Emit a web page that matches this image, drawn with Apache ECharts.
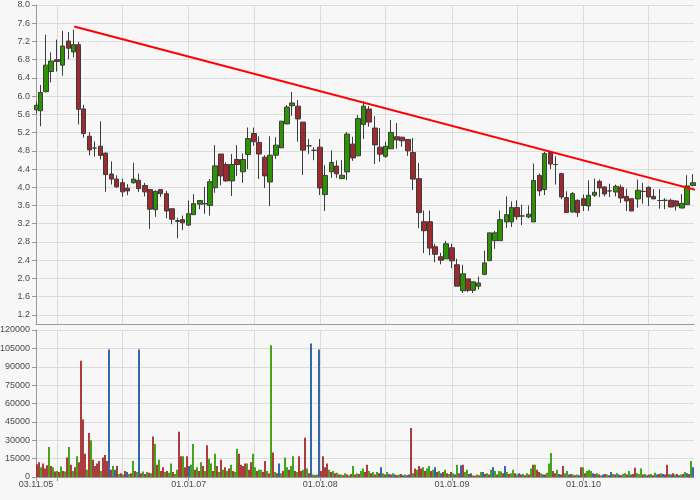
<!DOCTYPE html>
<html><head><meta charset="utf-8">
<script src="https://cdn.jsdelivr.net/npm/echarts@6/dist/echarts.min.js"></script>
<style>html,body{margin:0;padding:0;background:#f7f7f7}#c{width:700px;height:500px}</style>
</head><body><div id="c"></div>
<script>
// candle dates (semi-monthly)
const dates = ['2005-11-05','2005-11-15','2005-12-01','2005-12-15',
'2006-01-01','2006-01-15','2006-02-01','2006-02-15','2006-03-01','2006-03-15','2006-04-01','2006-04-15','2006-05-01','2006-05-15','2006-06-01','2006-06-15',
'2006-07-01','2006-07-15','2006-08-01','2006-08-15','2006-09-01','2006-09-15','2006-10-01','2006-10-15','2006-11-01','2006-11-15','2006-12-01','2006-12-15',
'2007-01-01','2007-01-15','2007-02-01','2007-02-15','2007-03-01','2007-03-15','2007-04-01','2007-04-15','2007-05-01','2007-05-15','2007-06-01','2007-06-15',
'2007-07-01','2007-07-15','2007-08-01','2007-08-15','2007-09-01','2007-09-15','2007-10-01','2007-10-15','2007-11-01','2007-11-15','2007-12-01','2007-12-15',
'2008-01-01','2008-01-15','2008-02-01','2008-02-15','2008-03-01','2008-03-15','2008-04-01','2008-04-15','2008-05-01','2008-05-15','2008-06-01','2008-06-15',
'2008-07-01','2008-07-15','2008-08-01','2008-08-15','2008-09-01','2008-09-15','2008-10-01','2008-10-15','2008-11-01','2008-11-15','2008-12-01','2008-12-15',
'2009-01-01','2009-01-15','2009-02-01','2009-02-15','2009-03-01','2009-03-15','2009-04-01','2009-04-15','2009-05-01','2009-05-15','2009-06-01','2009-06-15',
'2009-07-01','2009-07-15','2009-08-01','2009-08-15','2009-09-01','2009-09-15','2009-10-01','2009-10-15','2009-11-01','2009-11-15','2009-12-01','2009-12-15',
'2010-01-01','2010-01-15','2010-02-01','2010-02-15','2010-03-01','2010-03-15','2010-04-01','2010-04-15','2010-05-01','2010-05-15','2010-06-01','2010-06-15',
'2010-07-01','2010-07-15','2010-08-01','2010-08-15','2010-09-01','2010-09-15','2010-10-01','2010-10-15','2010-11-01'];
const opens = [5.70,5.68,6.10,6.54,6.80,6.68,7.21,6.97,7.13,5.72,5.12,4.86,4.90,4.75,4.29,4.18,4.10,3.98,4.10,4.155,
4.04,3.95,3.51,3.95,3.86,3.53,3.27,3.29,3.17,3.40,3.63,3.64,3.60,3.99,4.73,4.50,4.14,4.61,4.34,4.72,
5.18,4.985,4.66,4.117,4.705,4.865,5.39,5.79,5.78,5.43,4.91,4.81,4.88,3.84,4.34,4.465,4.19,4.337,4.947,4.69,
5.38,5.717,5.30,4.88,4.68,4.844,5.108,5.10,5.05,4.764,4.19,3.245,3.245,2.695,2.475,2.43,2.673,2.30,1.73,1.99,
1.74,1.83,2.09,2.39,2.83,2.83,3.24,3.24,3.555,3.37,3.35,3.24,4.26,3.95,4.764,4.50,4.30,3.774,3.457,3.714,
3.75,3.59,3.825,4.13,4.007,3.92,3.897,4.00,3.80,3.75,3.745,3.91,4.00,3.80,3.71,3.714,3.714,3.70,3.545,3.62,4.04];
const closes = [5.80,6.08,6.68,6.77,6.76,7.10,7.05,7.13,5.71,5.18,4.82,4.86,4.70,4.28,4.18,4.01,3.90,3.92,4.18,3.97,
3.90,3.52,3.91,3.86,3.48,3.30,3.25,3.22,3.42,3.64,3.71,3.64,4.12,4.47,4.25,4.14,4.50,4.50,4.61,5.07,
5.00,4.73,4.25,4.705,4.925,5.45,5.76,5.85,5.50,4.815,4.91,4.81,3.985,4.26,4.545,4.295,4.265,5.167,4.645,5.51,
5.78,5.43,4.93,4.727,4.90,5.204,5.04,5.02,4.80,4.18,3.444,3.047,2.665,2.53,2.40,2.76,2.387,1.83,2.10,1.74,
1.925,1.90,2.34,3.00,3.00,3.29,3.40,3.555,3.356,3.37,3.41,4.15,3.92,4.74,4.51,4.50,3.787,3.444,3.86,3.444,
3.60,3.825,3.89,3.985,3.853,3.92,4.02,3.765,3.70,3.48,3.935,3.91,3.787,3.745,3.71,3.714,3.567,3.59,3.645,4.03,4.10];
const lows = [5.62,5.34,6.08,6.30,6.54,6.45,6.81,6.85,5.38,5.09,4.70,4.67,4.61,3.90,4.06,3.985,3.79,3.825,4.08,3.90,
3.80,3.09,3.35,3.79,3.32,3.19,2.88,3.06,3.15,3.40,3.52,3.42,3.38,3.88,4.04,4.12,3.81,4.25,4.095,4.40,
4.91,4.18,3.985,3.59,4.62,4.865,5.39,5.57,5.00,4.27,4.73,4.595,3.83,3.48,4.205,4.205,4.19,4.16,4.58,4.69,
5.06,5.33,4.51,4.56,4.645,4.844,4.85,4.89,4.69,3.94,3.105,2.555,2.51,2.356,2.31,2.43,2.224,1.83,1.68,1.70,
1.68,1.76,2.07,2.39,2.65,2.83,3.11,3.13,3.29,3.17,3.32,3.24,3.81,3.83,4.40,4.06,3.735,3.444,3.444,3.35,
3.48,3.48,3.787,3.787,3.80,3.787,3.80,3.655,3.48,3.48,3.555,3.64,3.59,3.745,3.53,3.52,3.567,3.49,3.545,3.62,4.02];
const highs = [5.88,6.245,7.35,6.96,7.24,7.43,7.41,7.46,7.19,5.81,5.21,5.01,5.45,4.76,4.57,4.265,4.19,4.07,4.54,4.30,
4.095,3.96,3.935,3.95,3.92,3.53,3.33,3.38,3.71,3.85,3.71,4.01,4.18,4.925,4.73,4.55,4.73,4.925,4.74,5.31,
5.31,5.12,4.705,5.12,5.10,5.45,5.805,6.09,5.915,5.43,5.06,4.88,5.06,4.485,4.81,4.59,4.595,5.211,5.108,5.585,
5.89,5.78,5.56,5.30,5.00,5.475,5.41,5.10,5.05,5.085,4.53,3.49,3.49,2.76,2.56,2.827,2.76,2.43,2.30,1.99,
1.925,2.04,2.61,3.00,3.04,3.49,3.80,3.69,3.714,3.62,3.60,4.52,4.30,4.78,4.78,4.68,4.32,3.91,3.897,3.735,
3.84,4.155,4.19,4.17,4.02,4.08,4.06,4.06,3.97,3.75,4.17,4.095,4.02,3.96,3.96,3.76,3.75,3.72,3.85,4.265,4.29];

// trend line
const trendDates = ['2006-02-17','2010-11-20'];
const trendValues = [7.53, 3.92];

// volume (approx. one bar per 2px of time)
const volumes = [10500,12000,8000,11000,7000,9500,24500,9000,8000,4500,
5000,4000,8500,5000,4500,16000,24500,10000,5000,8000,
17000,12000,95000,47000,19000,6000,36000,30000,14000,9000,
11000,13000,5000,16000,18000,13000,104000,6000,9000,6000,
9000,2500,3000,2000,5000,4000,2500,3000,13000,5000,
4000,104000,3000,4500,2500,4000,3500,3000,33000,27000,
10000,14000,5000,8000,4000,5000,3500,11000,4000,2500,
6000,37000,17000,17000,8000,17000,9000,10000,27000,6000,
8000,5000,12000,9000,5000,26000,15000,11000,5000,19000,
9000,4000,14000,6000,8000,5000,7000,10000,5000,4000,
23000,19000,10000,9000,11000,11000,6000,12000,19000,8000,
5000,6000,6000,4000,13000,5000,3000,107500,20000,4000,
3000,11000,3000,5000,16000,8000,6000,9000,17000,5000,
4000,17000,5000,6000,32000,7000,3000,109000,2000,1500,
2000,104000,5000,17000,8000,11000,6000,4000,5000,3000,
3500,2000,2000,1500,3000,2000,1500,2500,9000,2000,
3000,2500,5000,7000,4000,10000,5000,3000,4000,2000,
4000,3000,8000,3000,2000,4000,2500,2000,3000,2000,
1500,2000,2500,1500,2000,1500,2000,40000,3000,7000,
6000,9000,7000,8000,5000,7000,9000,5000,6000,8000,
4000,5000,3000,4000,6000,3000,2500,4000,3000,2000,
10000,3000,9500,10000,4000,6000,2500,3000,1500,1000,
2000,1500,4000,4000,2500,3000,2000,6000,8000,5000,
2000,5000,4500,3000,9000,4000,2500,3000,6000,3000,
2000,3000,2000,2500,1500,3000,2000,7000,10000,10000,
6000,4000,3000,2000,2000,3500,11000,19500,5000,3000,
6000,2500,2000,9000,3000,5000,2000,2500,2000,1500,
2000,1500,8000,8000,3000,5000,6000,5000,3000,2500,
3000,2000,1500,2000,2500,2000,1500,4000,2500,2000,
3000,2000,1500,2500,3000,2000,5000,2000,2500,7500,
3000,2500,7000,2000,2500,1500,2000,2500,1500,3500,
2000,2500,3000,2500,2000,10000,2500,2000,3000,2000,
2500,1500,2000,2500,4000,3000,2500,13000,8000];
const volColors = 'rrgrrrgrgr'+'grgrgrgrgr'+'grrrrgrgrr'+'rrgrrrbrgb'+'rgrgrbgrgr'+'gbrgrgrgrg'+'rgrrgrggrg'+'grrgrrbggr'+'grgrgrggrg'+'rgrgrgrgrg'+
'grrrrgrrgg'+'rggrrgrgrg'+'rbgrggrggr'+'grrgrgrbgr'+'gbrrrrgrgr'+'grgrgrgrgr'+'grggrrgrgr'+'grbgrgbrgb'+'rgrbgrbrgr'+'grrgrggrgb'+
'rgbrgrgrgb'+'grbrggbrgr'+'grgbrgrgbg'+'rggrbgrggr'+'gbrgrgrgrg'+'rrgbrgggrr'+'gbrrggbrgr'+'gbrgrgggbr'+'grgbrgrbgr'+'gbrggrgbrr'+
'gggrgbrgrg'+'brgbrrgbrg'+'rbgrgbrgb';

// axis ticks / labels
const priceTicks = [1.2,1.6,2.0,2.4,2.8,3.2,3.6,4.0,4.4,4.8,5.2,5.6,6.0,6.4,6.8,7.2,7.6,8.0];
const gridDates = ['2006-01-01','2006-07-01','2007-01-01','2007-07-01','2008-01-01','2008-07-01','2009-01-01','2009-07-01','2010-01-01','2010-07-01'];
const tickDates = ['2005-11-03','2006-01-01','2007-01-01','2008-01-01','2009-01-01','2010-01-01'];
const labelDates = ['2005-11-03','2007-01-01','2008-01-01','2009-01-01','2010-01-01'];
const xMin = '2005-11-03', xMax = '2010-11-04';

function ts(s){const p=s.split('-');return new Date(+p[0], +p[1]-1, +p[2]).getTime();}
const C = {r:'#a3282a', g:'#339900', b:'#1c58a3'};
const axisGray = '#999', gridGray = '#dcdcdc';
const font = {fontFamily:'Liberation Sans', fontSize:9, color:'#4a4a4a'};
function pad(n){return (n<10?'0':'')+n;}
function fmtDate(v){const d=new Date(v);return pad(d.getDate())+'.'+pad(d.getMonth()+1)+'.'+pad(d.getFullYear()%100);}

const chart = echarts.init(document.getElementById('c'), null, {renderer:'canvas'});
const tMin = ts(xMin), tMax = ts(xMax);
chart.setOption({
  animation:false,
  backgroundColor:'#f7f7f7',
  grid:[
    {left:36, right:6, top:5, height:319, outerBoundsMode:'none', containLabel:false},
    {left:36, right:6, top:330, height:147, outerBoundsMode:'none', containLabel:false}
  ],
  xAxis:[
    {type:'value', gridIndex:0, position:'bottom', min:tMin, max:tMax,
     axisLine:{show:true, onZero:false, lineStyle:{color:axisGray}}, axisTick:{show:false, customValues:gridDates.map(ts)},
     axisLabel:{show:false, customValues:gridDates.map(ts)}, splitLine:{show:true, lineStyle:{color:gridGray}}},
    {type:'value', gridIndex:1, position:'bottom', min:tMin, max:tMax,
     axisLine:{show:true, onZero:false, lineStyle:{color:axisGray}}, axisTick:{show:false, customValues:gridDates.map(ts)},
     axisLabel:{show:false, customValues:gridDates.map(ts)}, splitLine:{show:true, lineStyle:{color:gridGray}}},
    {type:'value', gridIndex:1, position:'bottom', min:tMin, max:tMax,
     axisLine:{show:false, onZero:false}, axisTick:{show:true, length:4, customValues:tickDates.map(ts), lineStyle:{color:axisGray}},
     axisLabel:Object.assign({show:true, margin:3, customValues:labelDates.map(ts), formatter:fmtDate}, font),
     splitLine:{show:false}},
    {type:'category', gridIndex:1, position:'bottom', show:false, data:volumes.map((_,i)=>i)}
  ],
  yAxis:[
    {type:'value', gridIndex:0, min:1.0, max:8.0,
     axisLine:{show:true, lineStyle:{color:axisGray}},
     axisTick:{show:true, length:4, customValues:priceTicks, lineStyle:{color:axisGray}},
     axisLabel:Object.assign({margin:6, customValues:priceTicks, formatter:v=>v.toFixed(1)}, font),
     splitLine:{show:true, lineStyle:{color:gridGray}}},
    {type:'value', gridIndex:1, min:0, max:120000, interval:15000,
     axisLine:{show:true, lineStyle:{color:axisGray}},
     axisTick:{show:true, length:4, lineStyle:{color:axisGray}},
     axisLabel:Object.assign({margin:6, formatter:v=>String(v)}, font),
     splitLine:{show:true, lineStyle:{color:gridGray}}}
  ],
  series:[
    {type:'candlestick', xAxisIndex:0, yAxisIndex:0, barWidth:5,
     encode:{x:0, y:[1,2,3,4]},
     data:dates.map((d,i)=>[ts(d), opens[i], closes[i], lows[i], highs[i]]),
     itemStyle:{color:'#2b9400', color0:'#9e2a2e', borderColor:'#3c3c3c', borderColor0:'#3c3c3c', borderColorDoji:'#3c3c3c', borderWidth:1}},
    {type:'line', xAxisIndex:0, yAxisIndex:0, clip:false, symbol:'none',
     data:trendDates.map((d,i)=>[ts(d), trendValues[i]]),
     lineStyle:{color:'#ff0000', width:2}},
    {type:'bar', xAxisIndex:3, yAxisIndex:1, barWidth:'90%',
     data:volumes.map((v,i)=>({value:v, itemStyle:{color:C[volColors[i]]||C.g}}))}
  ]
});
</script></body></html>
